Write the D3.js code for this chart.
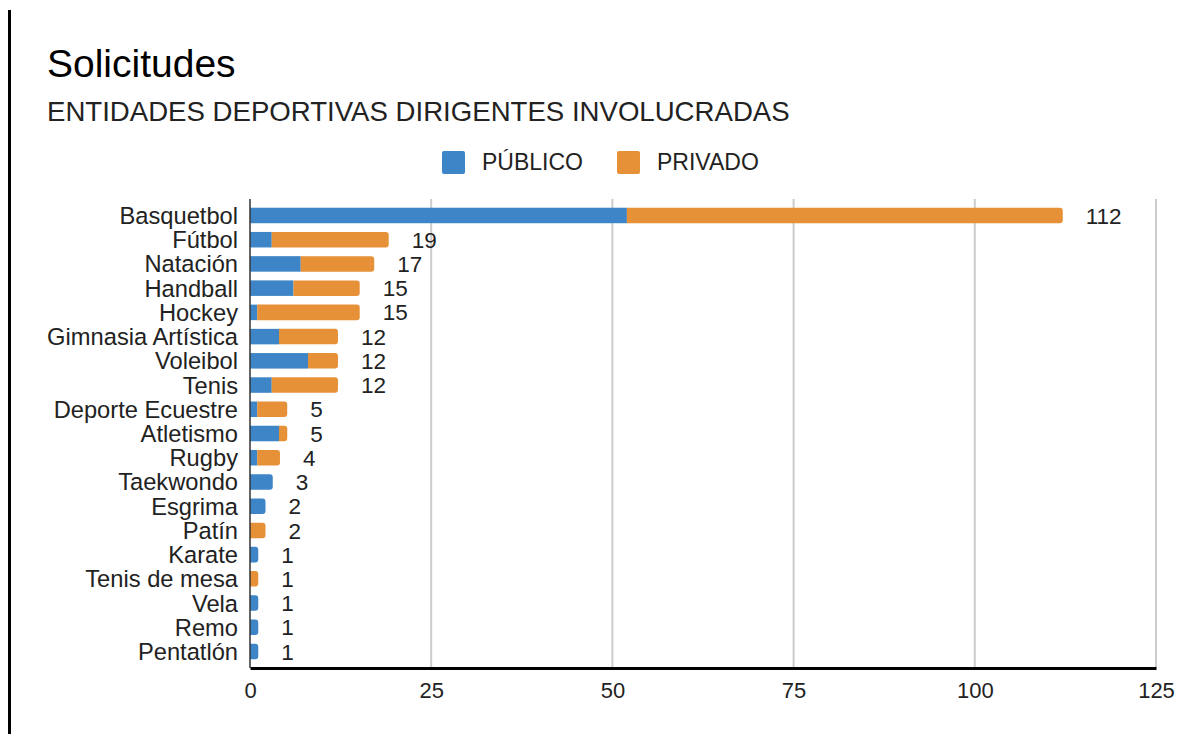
<!DOCTYPE html>
<html>
<head>
<meta charset="utf-8">
<script src="https://cdn.jsdelivr.net/npm/d3@7"></script>
<style>
  html, body { margin: 0; padding: 0; background: #fff; }
  svg { display: block; font-family: "Liberation Sans", Arial, sans-serif; }
</style>
</head>
<body>
<svg id="chart" width="1190" height="734"></svg>
<script>
const categories = ["Basquetbol","Fútbol","Natación","Handball","Hockey","Gimnasia Artística","Voleibol","Tenis","Deporte Ecuestre","Atletismo","Rugby","Taekwondo","Esgrima","Patín","Karate","Tenis de mesa","Vela","Remo","Pentatlón"];
const publico  = [52, 3, 7, 6, 1, 4, 8, 3, 1, 4, 1, 3, 2, 0, 1, 0, 1, 1, 1];
const privado  = [60, 16, 10, 9, 14, 8, 4, 9, 4, 1, 3, 0, 0, 2, 0, 1, 0, 0, 0];
const seriesNames = ["PÚBLICO", "PRIVADO"];
const seriesColors = ["#3d85c6", "#e69138"];
const xTicks = [0, 25, 50, 75, 100, 125];

(function () {
const svg = d3.select("#chart");
const W = 1190, H = 734;
const pLeft = 250, pRight = 1156, pTop = 199, pBottom = 668;

// left border line
svg.append("line").attr("x1", 9.5).attr("x2", 9.5).attr("y1", 10).attr("y2", H)
  .attr("stroke", "#000").attr("stroke-width", 3);

// titles
svg.append("text").attr("x", 47).attr("y", 77).attr("font-size", 39).attr("fill", "#000").text("Solicitudes");
svg.append("text").attr("x", 47).attr("y", 121).attr("font-size", 27.6).attr("fill", "#222").text("ENTIDADES DEPORTIVAS DIRIGENTES INVOLUCRADAS");

// legend
const legendX = [442, 617];
seriesNames.forEach((s, i) => {
  svg.append("rect").attr("x", legendX[i]).attr("y", 151).attr("width", 23).attr("height", 23)
    .attr("rx", 2).attr("fill", seriesColors[i]);
  svg.append("text").attr("x", legendX[i] + 40).attr("y", 170).attr("font-size", 23).attr("fill", "#222").text(s);
});

const x = d3.scaleLinear().domain([0, 125]).range([pLeft, pRight]);
const y = d3.scaleBand().domain(categories).range([pTop, pBottom]).paddingInner(0.36).paddingOuter(0.36);

// gridlines
svg.append("g").selectAll("line").data(xTicks.filter(t => t > 0)).join("line")
  .attr("x1", d => x(d)).attr("x2", d => x(d)).attr("y1", pTop).attr("y2", pBottom)
  .attr("stroke", "#cccccc").attr("stroke-width", 2);

// bars
const rows = categories.map((c, i) => ({ c, vals: [publico[i], privado[i]], total: publico[i] + privado[i] }));
const r = 3;
rows.forEach(row => {
  let x0 = 0;
  const y0 = y(row.c), h = y.bandwidth();
  const nonzero = row.vals.map((v, k) => v > 0 ? k : -1).filter(k => k >= 0);
  const lastK = nonzero[nonzero.length - 1];
  row.vals.forEach((v, k) => {
    if (v <= 0) return;
    const xa = x(x0), xb = x(x0 + v) + (k === lastK ? 1 : 0);
    if (k === lastK) {
      const p = d3.path();
      p.moveTo(xa, y0);
      p.lineTo(xb - r, y0);
      p.arcTo(xb, y0, xb, y0 + r, r);
      p.lineTo(xb, y0 + h - r);
      p.arcTo(xb, y0 + h, xb - r, y0 + h, r);
      p.lineTo(xa, y0 + h);
      p.closePath();
      svg.append("path").attr("d", p.toString()).attr("fill", seriesColors[k]);
    } else {
      svg.append("rect").attr("x", xa).attr("y", y0).attr("width", xb - xa).attr("height", h).attr("fill", seriesColors[k]);
    }
    x0 += v;
  });
  svg.append("text").attr("x", x(row.total) + 24).attr("y", y0 + h / 2).attr("dy", "0.36em")
    .attr("font-size", 22.5).attr("fill", "#222").text(row.total);
});

// category labels
svg.append("g").selectAll("text").data(categories).join("text")
  .attr("x", 238).attr("y", d => y(d) + y.bandwidth() / 2).attr("dy", "0.36em")
  .attr("text-anchor", "end").attr("font-size", 23.7).attr("fill", "#222").text(d => d);

// vertical zero axis line
svg.append("line").attr("x1", pLeft).attr("x2", pLeft).attr("y1", pTop).attr("y2", pBottom)
  .attr("stroke", "#333").attr("stroke-width", 1.5);

// bottom axis
const xAxis = d3.axisBottom(x).tickValues(xTicks).tickSize(0).tickPadding(14).tickFormat(d3.format("d"));
const gx = svg.append("g").attr("transform", `translate(0,${pBottom})`).call(xAxis);
gx.select(".domain").attr("stroke", "#000").attr("stroke-width", 3);
gx.selectAll("text").attr("font-size", 22).attr("fill", "#222").attr("font-family", "Liberation Sans, Arial, sans-serif");
})();
</script>
</body>
</html>
